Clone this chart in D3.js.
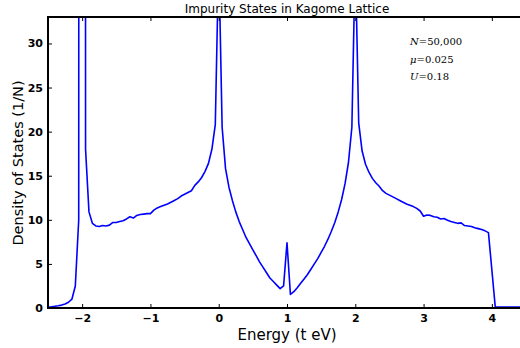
<!DOCTYPE html>
<html>
<head>
<meta charset="utf-8">
<script src="https://cdn.jsdelivr.net/npm/d3@7"></script>
<style>
body { margin: 0; background: #fff; }
svg { display: block; }
</style>
</head>
<body>
<div id="chart"></div>
<script>
const width = 520;
const height = 348;
const margin = { top: 17, left: 48, bottom: 40 };

// Energy (t eV) samples and density of states
const energy = [-2.50, -2.45, -2.40, -2.35, -2.30, -2.25, -2.20, -2.15, -2.10, -2.05,
  -2.00, -1.95, -1.90, -1.85, -1.80, -1.75, -1.70, -1.65, -1.60, -1.55,
  -1.50, -1.45, -1.40, -1.35, -1.30, -1.25, -1.20, -1.15, -1.10, -1.05,
  -1.00, -0.95, -0.90, -0.85, -0.80, -0.75, -0.70, -0.65, -0.60, -0.55,
  -0.50, -0.45, -0.40, -0.35, -0.30, -0.25, -0.20, -0.15, -0.10, -0.05,
  0.00, 0.05, 0.10, 0.15, 0.20, 0.25, 0.30, 0.35, 0.40, 0.45,
  0.50, 0.55, 0.60, 0.65, 0.70, 0.75, 0.80, 0.85, 0.90, 0.95,
  1.00, 1.05, 1.10, 1.15, 1.20, 1.25, 1.30, 1.35, 1.40, 1.45,
  1.50, 1.55, 1.60, 1.65, 1.70, 1.75, 1.80, 1.85, 1.90, 1.95,
  2.00, 2.05, 2.10, 2.15, 2.20, 2.25, 2.30, 2.35, 2.40, 2.45,
  2.50, 2.55, 2.60, 2.65, 2.70, 2.75, 2.80, 2.85, 2.90, 2.95,
  3.00, 3.05, 3.10, 3.15, 3.20, 3.25, 3.30, 3.35, 3.40, 3.45,
  3.50, 3.55, 3.60, 3.65, 3.70, 3.75, 3.80, 3.85, 3.90, 3.95,
  4.05, 4.50];
const dos = [0.12, 0.15, 0.2, 0.26, 0.33, 0.45, 0.65, 1.0, 2.5, 10.0,
  1500, 18.0, 10.9, 9.6, 9.3, 9.25, 9.35, 9.3, 9.4, 9.7,
  9.7, 9.8, 9.9, 10.1, 10.35, 10.2, 10.5, 10.6, 10.65, 10.7,
  10.7, 11.1, 11.35, 11.5, 11.65, 11.8, 12.0, 12.2, 12.4, 12.7,
  12.9, 13.1, 13.3, 13.9, 14.3, 14.8, 15.5, 16.4, 18.0, 20.8,
  40, 20.5, 15.8, 13.7, 12.2, 10.9, 9.8, 8.9, 8.0, 7.3,
  6.6, 5.9, 5.2, 4.6, 4.0, 3.4, 3.0, 2.6, 2.2, 2.5,
  7.4, 1.55, 1.85, 2.3, 2.8, 3.3, 3.8, 4.4, 5.0, 5.6,
  6.3, 7.0, 7.8, 8.7, 9.7, 10.9, 12.3, 14.1, 16.5, 20.5,
  40, 21.0, 17.8, 16.3, 15.4, 14.7, 14.2, 13.8, 13.3, 13.0,
  12.8, 12.6, 12.4, 12.2, 12.0, 11.8, 11.65, 11.5, 11.3, 11.0,
  10.4, 10.55, 10.5, 10.35, 10.3, 10.1, 10.15, 9.95, 9.8, 9.7,
  9.6, 9.65, 9.35, 9.3, 9.25, 9.1, 9.0, 8.9, 8.75, 8.55,
  0.1, 0.1];

const xTicks = [-2, -1, 0, 1, 2, 3, 4];
const yTicks = [0, 5, 10, 15, 20, 25, 30];
const notes = [['N', '50,000'], ['μ', '0.025'], ['U', '0.18']];

const x = d3.scaleLinear().domain([-2.5, 4.5]).range([margin.left, 526]);
const y = d3.scaleLinear().domain([0, 33]).range([height - margin.bottom, margin.top]);

const svg = d3.select('#chart').append('svg').attr('width', width).attr('height', height);

svg.append('clipPath').attr('id', 'plot-clip')
  .append('rect')
  .attr('x', x.range()[0]).attr('y', y.range()[1])
  .attr('width', x.range()[1] - x.range()[0])
  .attr('height', y.range()[0] - y.range()[1]);

const points = energy.map((e, i) => [e, dos[i]]);
const line = d3.line().x(d => x(d[0])).y(d => y(d[1]));

svg.append('path')
  .datum(points)
  .attr('clip-path', 'url(#plot-clip)')
  .attr('fill', 'none')
  .attr('stroke', '#0000ff')
  .attr('stroke-width', 1.6)
  .attr('stroke-linejoin', 'round')
  .attr('d', line);

// inward ticks, matplotlib classic look
const fmt = d3.format('d');
const bottomAxis = svg.append('g')
  .attr('transform', `translate(0,${y(0)})`)
  .call(d3.axisBottom(x).tickValues(xTicks).tickFormat(fmt).tickSize(-4).tickPadding(6));
const topAxis = svg.append('g')
  .attr('transform', `translate(0,${y(33)})`)
  .call(d3.axisTop(x).tickValues(xTicks).tickSize(-4).tickFormat(''));
const leftAxis = svg.append('g')
  .attr('transform', `translate(${x(-2.5)},0)`)
  .call(d3.axisLeft(y).tickValues(yTicks).tickFormat(fmt).tickSize(-4).tickPadding(5));

[bottomAxis, topAxis, leftAxis].forEach(g => {
  g.select('.domain').remove();
  g.selectAll('.tick line').attr('stroke', '#000').attr('stroke-width', 1);
  g.selectAll('.tick text')
    .attr('fill', '#000')
    .style('font-family', 'DejaVu Sans, sans-serif')
    .style('font-weight', 'bold')
    .style('font-size', '11px');
});

// spines
const spines = [
  [x(-2.5), y(0), 526, y(0)],
  [x(-2.5), y(33), 526, y(33)],
  [x(-2.5), y(0), x(-2.5), y(33)]
];
svg.selectAll('.spine')
  .data(spines)
  .enter()
  .append('line')
  .attr('class', 'spine')
  .attr('x1', d => d[0]).attr('y1', d => d[1])
  .attr('x2', d => d[2]).attr('y2', d => d[3])
  .attr('stroke', '#000')
  .attr('stroke-width', 2)
  .attr('stroke-linecap', 'square');

svg.append('text')
  .attr('x', (x.range()[0] + x.range()[1]) / 2)
  .attr('y', 13)
  .attr('text-anchor', 'middle')
  .style('font-family', 'DejaVu Sans, sans-serif')
  .style('font-size', '12px')
  .text('Impurity States in Kagome Lattice');

svg.append('text')
  .attr('x', (x.range()[0] + x.range()[1]) / 2)
  .attr('y', 340)
  .attr('text-anchor', 'middle')
  .style('font-family', 'DejaVu Sans, sans-serif')
  .style('font-size', '15px')
  .text('Energy (t eV)');

svg.append('text')
  .attr('transform', 'translate(23,163) rotate(-90)')
  .attr('text-anchor', 'middle')
  .style('font-family', 'DejaVu Sans, sans-serif')
  .style('font-size', '14.5px')
  .text('Density of States (1/N)');

// parameter notes
const noteText = svg.selectAll('.note')
  .data(notes)
  .enter()
  .append('text')
  .attr('class', 'note')
  .attr('x', 410)
  .attr('y', (d, i) => 45 + i * 17.5)
  .style('font-family', 'DejaVu Serif, serif')
  .style('font-size', '10px');
noteText.append('tspan').style('font-style', 'italic').text(d => d[0]);
noteText.append('tspan').text(d => '=' + d[1]);
</script>
</body>
</html>
